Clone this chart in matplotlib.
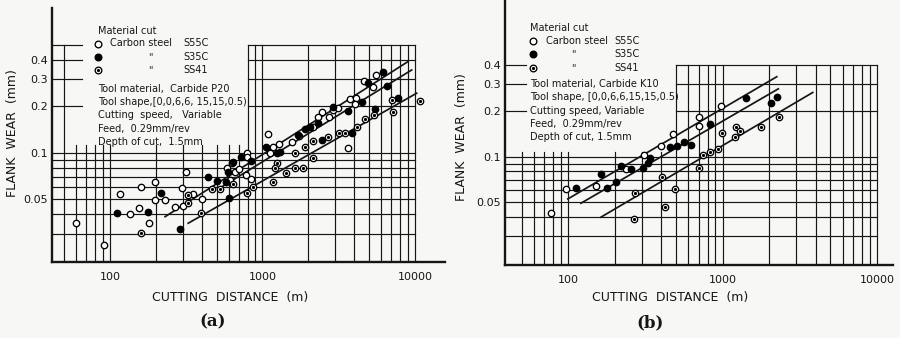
import matplotlib
matplotlib.use("Agg")
import matplotlib.pyplot as plt

# ---- data ----
# panel (a): carbide P20
a_open_x = [60, 91, 117, 135, 156, 159, 181, 196, 197, 230, 269, 300, 317, 297, 352, 399,
            582, 628, 660, 704, 788, 780, 841, 612, 795, 1092, 1178, 1289, 1555, 1743, 1120,
            2153, 2443, 2322, 2913, 3150, 3749, 4104, 4044, 3637, 4652, 5280, 5548, 2741]
a_open_y = [0.035, 0.0255, 0.054, 0.0405, 0.0443, 0.060, 0.035, 0.065, 0.0497, 0.0494, 0.0449,
            0.0452, 0.0753, 0.059, 0.054, 0.050, 0.0796, 0.0865, 0.0757, 0.0784, 0.0996, 0.072,
            0.0676, 0.0668, 0.0946, 0.132, 0.110, 0.114, 0.118, 0.129, 0.0996, 0.148, 0.185,
            0.172, 0.189, 0.195, 0.224, 0.225, 0.207, 0.108, 0.292, 0.266, 0.32, 0.172]
a_fill_x = [111, 177, 217, 286, 441, 503, 579, 597, 605, 726, 838, 643, 1059, 1240, 1303, 1717,
            1900, 2047, 2322, 2443, 2913, 3653, 3846, 4506, 4940, 6170, 6520, 7770, 5467]
a_fill_y = [0.0411, 0.0417, 0.0553, 0.0324, 0.0697, 0.0657, 0.0652, 0.0757, 0.0509, 0.0935,
            0.0885, 0.0878, 0.109, 0.0996, 0.102, 0.131, 0.142, 0.148, 0.156, 0.121, 0.199,
            0.186, 0.135, 0.213, 0.283, 0.336, 0.27, 0.225, 0.193]
a_ss41_x = [161, 326, 324, 393, 464, 527, 643, 788, 863, 1167, 1240, 1208, 1426, 1634, 1634,
            1852, 1900, 2153, 2134, 2701, 3189, 3459, 4167, 4736, 5360, 7100, 7151, 10790]
a_ss41_y = [0.0304, 0.0535, 0.0473, 0.0407, 0.0582, 0.0582, 0.0625, 0.0548, 0.060, 0.0652,
            0.0865, 0.0796, 0.0746, 0.0796, 0.1004, 0.0796, 0.110, 0.119, 0.0924, 0.126, 0.134,
            0.134, 0.148, 0.165, 0.176, 0.22, 0.183, 0.217]
a_fit_x = [[230, 9000], [527, 9510], [326, 10260]]
a_fit_y = [[0.0387, 0.39], [0.0594, 0.344], [0.0351, 0.2435]]

# panel (b): carbide K10
b_open_x = [77, 97, 152, 237, 308, 402, 481, 701, 705, 978]
b_open_y = [0.0425, 0.061, 0.064, 0.083, 0.103, 0.118, 0.14, 0.159, 0.183, 0.214]
b_fill_x = [113, 164, 178, 205, 220, 255, 304, 327, 341, 459, 509, 561, 628, 834, 1409, 2045, 2264]
b_fill_y = [0.0623, 0.077, 0.0625, 0.068, 0.087, 0.083, 0.084, 0.091, 0.0976, 0.115, 0.118,
            0.124, 0.119, 0.165, 0.243, 0.224, 0.245]
b_ss41_x = [267, 272, 403, 425, 495, 703, 742, 830, 928, 997, 1214, 1205, 1292, 1775, 2311]
b_ss41_y = [0.0388, 0.0575, 0.0739, 0.047, 0.061, 0.0843, 0.102, 0.107, 0.113, 0.144, 0.157,
            0.135, 0.148, 0.156, 0.183]
b_fit_x = [[99.5, 2244], [121, 2297], [163, 3837]]
b_fit_y = [[0.0527, 0.335], [0.0494, 0.279], [0.04, 0.264]]

x_ticks = [100, 1000, 10000]
x_ticklabels = ["100", "1000", "10000"]
y_ticks = [0.05, 0.1, 0.2, 0.3, 0.4]
y_ticklabels = ["0.05", "0.1", "0.2", "0.3", "0.4"]

grid_x = [50, 60, 70, 80, 90, 100, 200, 300, 400, 500, 600, 700, 800, 900,
          1000, 2000, 3000, 4000, 5000, 6000, 7000, 8000, 9000, 10000]
grid_y = [0.03, 0.04, 0.05, 0.06, 0.07, 0.08, 0.09, 0.1, 0.2, 0.3, 0.4, 0.5]

legend_a = ["Tool material,  Carbide P20", "Tool shape,[0,0,6,6, 15,15,0.5)",
            "Cutting  speed,   Variable", "Feed,  0.29mm/rev", "Depth of cut,  1.5mm"]
legend_b = ["Tool material, Carbide K10", "Tool shape, [0,0,6,6,15,15,0.5)",
            "Cutting speed, Variable", "Feed,  0.29mm/rev", "Depth of cut, 1.5mm"]

BG = "#f7f7f5"
INK = "#161616"

fig = plt.figure(figsize=(9, 3.38), dpi=100)
fig.patch.set_facecolor(BG)


def px(x, y):
    # pixel position in the 900x338 picture -> figure fraction
    return x / 900.0, 1 - y / 338.0


def draw_grid(ax, ybot, ytop, hx0, vx0, x1, y0):
    # grid is left blank behind the text block (x between vx0/hx0 and x1, above y0)
    xmin = ax.get_xlim()[0]
    for y in grid_y:
        if y > ytop + 1e-9:
            continue
        if y > y0:
            ax.plot([xmin, hx0], [y, y], color=INK, lw=0.85, zorder=1)
            ax.plot([x1, 10000], [y, y], color=INK, lw=0.85, zorder=1)
        else:
            ax.plot([xmin, 10000], [y, y], color=INK, lw=0.85, zorder=1)
    for x in grid_x:
        top = y0 if vx0 < x < x1 else ytop
        ax.plot([x, x], [ybot, top], color=INK, lw=0.85, zorder=1)


def draw_points(ax, xs, ys, kind, **kw):
    face = "black" if kind == "fill" else "white"
    ax.plot(xs, ys, "o", ms=4.6, mfc=face, mec="black", mew=0.95, ls="none", zorder=5, **kw)
    if kind == "ss41":
        ax.plot(xs, ys, "o", ms=1.3, mfc="black", mec="black", ls="none", zorder=6, **kw)


def panel(rect, xlim, ylim, fits_x, fits_y, sets, grid_args):
    ax = fig.add_axes(rect)
    ax.set_xscale("log")
    ax.set_yscale("log")
    ax.set_xlim(*xlim)
    ax.set_ylim(*ylim)
    ax.patch.set_visible(False)
    for s in ["top", "right"]:
        ax.spines[s].set_visible(False)
    for s in ["left", "bottom"]:
        ax.spines[s].set_linewidth(1.7)
        ax.spines[s].set_color(INK)
    ax.minorticks_off()
    ax.set_xticks(x_ticks)
    ax.set_xticklabels(x_ticklabels)
    ax.set_yticks(y_ticks)
    ax.set_yticklabels(y_ticklabels)
    ax.tick_params(length=0, labelsize=8, colors=INK)
    ax.tick_params(axis="x", pad=7)
    ax.tick_params(axis="y", pad=3)
    draw_grid(ax, ylim[0], *grid_args)
    for fx, fy in zip(fits_x, fits_y):
        ax.plot(fx, fy, color=INK, lw=1.25, zorder=4)
    for xs, ys, kind in sets:
        draw_points(ax, xs, ys, kind, clip_on=False)
    return ax


ax_a = panel([52 / 900, 1 - 262 / 338, 393 / 900, 254 / 338], (41.7, 15730), (0.0197, 0.866),
             a_fit_x, a_fit_y,
             [(a_open_x, a_open_y, "open"), (a_fill_x, a_fill_y, "fill"), (a_ss41_x, a_ss41_y, "ss41")],
             (0.5, 66, 55, 800, 0.112))
ax_b = panel([505 / 900, 1 - 265 / 338, 388 / 900, 265 / 338], (39, 12700), (0.0194, 1.07),
             b_fit_x, b_fit_y,
             [(b_open_x, b_open_y, "open"), (b_fill_x, b_fill_y, "fill"), (b_ss41_x, b_ss41_y, "ss41")],
             (0.4, 53, 45, 500, 0.108))


def legend_block(x0, ytop, xmark, xditto, xgrade, rows, step_rows):
    fs = 7
    fig.text(*px(x0, ytop), "Material cut", fontsize=fs, va="center", color=INK)
    marks = ["open", "fill", "ss41"]
    grades = ["S55C", "S35C", "SS41"]
    for i in range(3):
        yy = ytop + 13.3 * (i + 1) - 0.5
        fx, fy = px(xmark, yy)
        face = "black" if marks[i] == "fill" else "white"
        ax_a.plot([fx], [fy], "o", ms=4.8, mfc=face, mec="black", mew=0.95,
                  transform=fig.transFigure, clip_on=False, zorder=7)
        if marks[i] == "ss41":
            ax_a.plot([fx], [fy], "o", ms=1.3, mfc="black", mec="black",
                      transform=fig.transFigure, clip_on=False, zorder=8)
        if i == 0:
            fig.text(*px(xmark + 13, yy), "Carbon steel", fontsize=fs, va="center", color=INK)
        else:
            fig.text(*px(xditto, yy), '"', fontsize=fs, va="center", ha="center", color=INK)
        fig.text(*px(xgrade, yy), grades[i], fontsize=fs, va="center", color=INK)
    y = ytop + 13.3 * 3 + step_rows[0]
    for i, line in enumerate(rows):
        fig.text(*px(x0, y + step_rows[1] * i), line, fontsize=fs, va="center", color=INK)


legend_block(98, 30.7, 97.5, 150, 183, legend_a, (18, 13.4))
legend_block(530, 28.3, 533, 573, 614, legend_b, (16, 13.3))

# axis titles and panel letters
fig.text(*px(230, 297), "CUTTING  DISTANCE  (m)", fontsize=9, ha="center", va="center", color=INK)
fig.text(*px(670, 297), "CUTTING  DISTANCE  (m)", fontsize=9, ha="center", va="center", color=INK)
fig.text(*px(13, 133), "FLANK  WEAR  (mm)", fontsize=9, rotation=90, ha="center", va="center", color=INK)
fig.text(*px(461, 137), "FLANK  WEAR  (mm)", fontsize=9, rotation=90, ha="center", va="center", color=INK)
fig.text(*px(213, 322), "(a)", fontsize=12, fontweight="bold", family="DejaVu Serif",
         ha="center", va="center", color=INK)
fig.text(*px(650, 323), "(b)", fontsize=12, fontweight="bold", family="DejaVu Serif",
         ha="center", va="center", color=INK)

fig.savefig("out.png", dpi=100, facecolor=BG)
